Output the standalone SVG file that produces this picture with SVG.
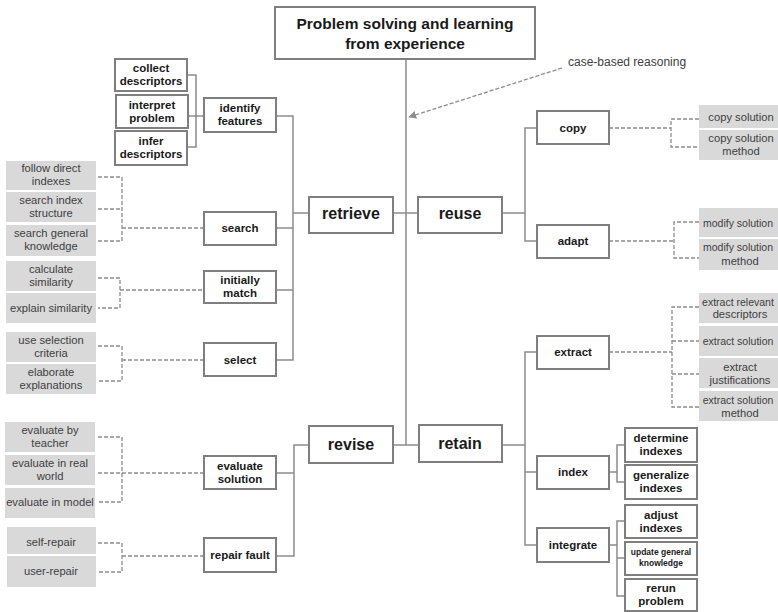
<svg xmlns="http://www.w3.org/2000/svg" width="778" height="612" viewBox="0 0 778 612">
<defs>
<style>
.box{fill:#fff;stroke:#7f7f7f;stroke-width:2}
.gb{fill:#d9d9d9}
.ln{fill:none;stroke:#8c8c8c;stroke-width:1.5}
.dl{fill:none;stroke:#8c8c8c;stroke-width:1.3;stroke-dasharray:4 2}
text{font-family:"Liberation Sans",Arial,sans-serif;text-anchor:middle}
.tt{font-size:15.5px;font-weight:bold;fill:#1a1a1a}
.t1{font-size:16px;font-weight:bold;fill:#1a1a1a}
.t2{font-size:11.5px;font-weight:bold;fill:#1a1a1a}
.t3{font-size:8.5px;font-weight:bold;fill:#1a1a1a}
.tg{font-size:11.2px;fill:#404040}
.tr{font-size:11.2px;fill:#404040}
.trs{font-size:10.5px;fill:#404040}
.tl{font-size:12px;fill:#404040;text-anchor:start}
</style>
<marker id="ah" viewBox="0 0 10 10" refX="9" refY="5" markerWidth="8" markerHeight="8" orient="auto" markerUnits="userSpaceOnUse">
<path d="M0 0 L10 5 L0 10 z" fill="#8c8c8c"/>
</marker>
</defs>
<rect width="778" height="612" fill="#fff"/>

<g id="connectors">
<path class="ln" d="M406 59 V445"/>
<path class="ln" d="M393 213 H418"/>
<path class="ln" d="M309 213 H293"/>
<path class="ln" d="M276 116 H293 V360 H276 M276 228 H293 M276 290 H293"/>
<path class="ln" d="M187 75 H196 V147 H187 M188 116 H204"/>
<path class="ln" d="M393 445 H419"/>
<path class="ln" d="M309 445 H294 V556 H276 M276 473 H294"/>
<path class="ln" d="M502 213 H525 M537 128 H525 V241 H537"/>
<path class="ln" d="M502 445 H525 M537 352 H525 V545 H537 M537 472 H525"/>
<path class="ln" d="M609 472 H617 M625 445 H617 V482 H625"/>
<path class="ln" d="M609 545 H617 M625 521 H617 V596 H625 M617 558 H625"/>
<path class="dl" d="M98 177 H122 V241 H98 M98 209 H122 M122 228 H204"/>
<path class="dl" d="M98 278 H120 V308 H98 M120 290 H204"/>
<path class="dl" d="M98 346 H122 V381 H98 M122 360 H204"/>
<path class="dl" d="M98 437 H122 V502 H98 M98 473 H204"/>
<path class="dl" d="M98 543 H122 V572 H98 M122 556 H204"/>
<path class="dl" d="M609 128 H671 M699 119 H671 V147 H699"/>
<path class="dl" d="M609 241 H674 M699 222 H674 V258 H699"/>
<path class="dl" d="M609 352 H672 M699 307 H672 V407 H699 M672 341 H699 M672 374 H699"/>
<path class="dl" d="M562 68 L409 117" marker-end="url(#ah)"/>
</g>

<g id="title"><rect class="box" x="275" y="7" width="260" height="52"/><text class="tt" x="405" y="29">Problem solving and learning</text><text class="tt" x="405" y="49">from experience</text></g>
<g id="cbr-label"><text class="tl" x="568" y="66">case-based reasoning</text></g>

<g id="retrieve"><rect class="box" x="309" y="197" width="84" height="36"/><text class="t1" x="351" y="219">retrieve</text></g>
<g id="reuse"><rect class="box" x="418" y="197" width="84" height="36"/><text class="t1" x="460" y="219">reuse</text></g>
<g id="revise"><rect class="box" x="309" y="426" width="84" height="37"/><text class="t1" x="351" y="450">revise</text></g>
<g id="retain"><rect class="box" x="419" y="425" width="83" height="37"/><text class="t1" x="460" y="449">retain</text></g>

<g id="collect-descriptors"><rect class="box" x="115" y="59" width="72" height="32"/><text class="t2" x="151" y="72">collect</text><text class="t2" x="151" y="85">descriptors</text></g>
<g id="interpret-problem"><rect class="box" x="116" y="95" width="72" height="33"/><text class="t2" x="152" y="109">interpret</text><text class="t2" x="152" y="122">problem</text></g>
<g id="infer-descriptors"><rect class="box" x="115" y="131" width="72" height="34"/><text class="t2" x="151" y="145">infer</text><text class="t2" x="151" y="158">descriptors</text></g>
<g id="identify-features"><rect class="box" x="204" y="98" width="72" height="34"/><text class="t2" x="240" y="112">identify</text><text class="t2" x="240" y="125">features</text></g>
<g id="search"><rect class="box" x="204" y="212" width="72" height="33"/><text class="t2" x="240" y="232">search</text></g>
<g id="initially-match"><rect class="box" x="204" y="271" width="72" height="32"/><text class="t2" x="240" y="284">initially</text><text class="t2" x="240" y="297">match</text></g>
<g id="select"><rect class="box" x="204" y="343" width="72" height="33"/><text class="t2" x="240" y="364">select</text></g>
<g id="evaluate-solution"><rect class="box" x="204" y="456" width="72" height="33"/><text class="t2" x="240" y="470">evaluate</text><text class="t2" x="240" y="483">solution</text></g>
<g id="repair-fault"><rect class="box" x="204" y="538" width="72" height="34"/><text class="t2" x="240" y="559">repair fault</text></g>

<g id="copy"><rect class="box" x="537" y="111" width="72" height="33"/><text class="t2" x="573" y="132">copy</text></g>
<g id="adapt"><rect class="box" x="537" y="225" width="72" height="33"/><text class="t2" x="573" y="245">adapt</text></g>
<g id="extract"><rect class="box" x="537" y="336" width="72" height="33"/><text class="t2" x="573" y="356">extract</text></g>
<g id="index"><rect class="box" x="537" y="456" width="72" height="33"/><text class="t2" x="573" y="476">index</text></g>
<g id="integrate"><rect class="box" x="537" y="528" width="72" height="34"/><text class="t2" x="573" y="549">integrate</text></g>
<g id="determine-indexes"><rect class="box" x="625" y="428" width="72" height="34"/><text class="t2" x="661" y="442">determine</text><text class="t2" x="661" y="455">indexes</text></g>
<g id="generalize-indexes"><rect class="box" x="625" y="465" width="72" height="34"/><text class="t2" x="661" y="479">generalize</text><text class="t2" x="661" y="492">indexes</text></g>
<g id="adjust-indexes"><rect class="box" x="625" y="505" width="72" height="33"/><text class="t2" x="661" y="519">adjust</text><text class="t2" x="661" y="532">indexes</text></g>
<g id="update-general-knowledge"><rect class="box" x="625" y="542" width="72" height="33"/><text class="t3" x="661" y="555">update general</text><text class="t3" x="661" y="566">knowledge</text></g>
<g id="rerun-problem"><rect class="box" x="625" y="579" width="72" height="32"/><text class="t2" x="661" y="592">rerun</text><text class="t2" x="661" y="605">problem</text></g>

<g id="follow-direct-indexes"><rect class="gb" x="6" y="161" width="90" height="29"/><text class="tg" x="51" y="172">follow direct</text><text class="tg" x="51" y="185">indexes</text></g>
<g id="search-index-structure"><rect class="gb" x="6" y="192" width="90" height="30"/><text class="tg" x="51" y="204">search index</text><text class="tg" x="51" y="217">structure</text></g>
<g id="search-general-knowledge"><rect class="gb" x="6" y="225" width="90" height="31"/><text class="tg" x="51" y="237">search general</text><text class="tg" x="51" y="250">knowledge</text></g>
<g id="calculate-similarity"><rect class="gb" x="6" y="261" width="90" height="30"/><text class="tg" x="51" y="273">calculate</text><text class="tg" x="51" y="286">similarity</text></g>
<g id="explain-similarity"><rect class="gb" x="6" y="293" width="90" height="30"/><text class="tg" x="51" y="312">explain similarity</text></g>
<g id="use-selection-criteria"><rect class="gb" x="6" y="332" width="90" height="30"/><text class="tg" x="51" y="344">use selection</text><text class="tg" x="51" y="357">criteria</text></g>
<g id="elaborate-explanations"><rect class="gb" x="6" y="364" width="90" height="30"/><text class="tg" x="51" y="376">elaborate</text><text class="tg" x="51" y="389">explanations</text></g>
<g id="evaluate-by-teacher"><rect class="gb" x="5" y="422" width="90" height="30"/><text class="tg" x="50" y="434">evaluate by</text><text class="tg" x="50" y="447">teacher</text></g>
<g id="evaluate-in-real-world"><rect class="gb" x="5" y="455" width="90" height="30"/><text class="tg" x="50" y="467">evaluate in real</text><text class="tg" x="50" y="480">world</text></g>
<g id="evaluate-in-model"><rect class="gb" x="5" y="488" width="90" height="30"/><text class="tg" x="50" y="506">evaluate in model</text></g>
<g id="self-repair"><rect class="gb" x="7" y="527" width="89" height="27"/><text class="tg" x="51" y="546">self-repair</text></g>
<g id="user-repair"><rect class="gb" x="7" y="556" width="89" height="31"/><text class="tg" x="51" y="575">user-repair</text></g>

<g id="copy-solution"><rect class="gb" x="699" y="105" width="90" height="23"/><text class="tr" x="741" y="121">copy solution</text></g>
<g id="copy-solution-method"><rect class="gb" x="699" y="130" width="90" height="30"/><text class="tr" x="741" y="142">copy solution</text><text class="tr" x="741" y="155">method</text></g>
<g id="modify-solution"><rect class="gb" x="699" y="208" width="90" height="29"/><text class="trs" x="738" y="227">modify solution</text></g>
<g id="modify-solution-method"><rect class="gb" x="699" y="239" width="90" height="31"/><text class="trs" x="738" y="251">modify solution</text><text class="tr" x="740" y="265">method</text></g>
<g id="extract-relevant-descriptors"><rect class="gb" x="699" y="293" width="90" height="30"/><text class="trs" x="738" y="306">extract relevant</text><text class="tr" x="740" y="318">descriptors</text></g>
<g id="extract-solution"><rect class="gb" x="699" y="326" width="90" height="30"/><text class="trs" x="738" y="345">extract solution</text></g>
<g id="extract-justifications"><rect class="gb" x="699" y="358" width="90" height="30"/><text class="tr" x="740" y="371">extract</text><text class="tr" x="740" y="384">justifications</text></g>
<g id="extract-solution-method"><rect class="gb" x="699" y="391" width="90" height="30"/><text class="trs" x="738" y="404">extract solution</text><text class="tr" x="740" y="417">method</text></g>
</svg>
